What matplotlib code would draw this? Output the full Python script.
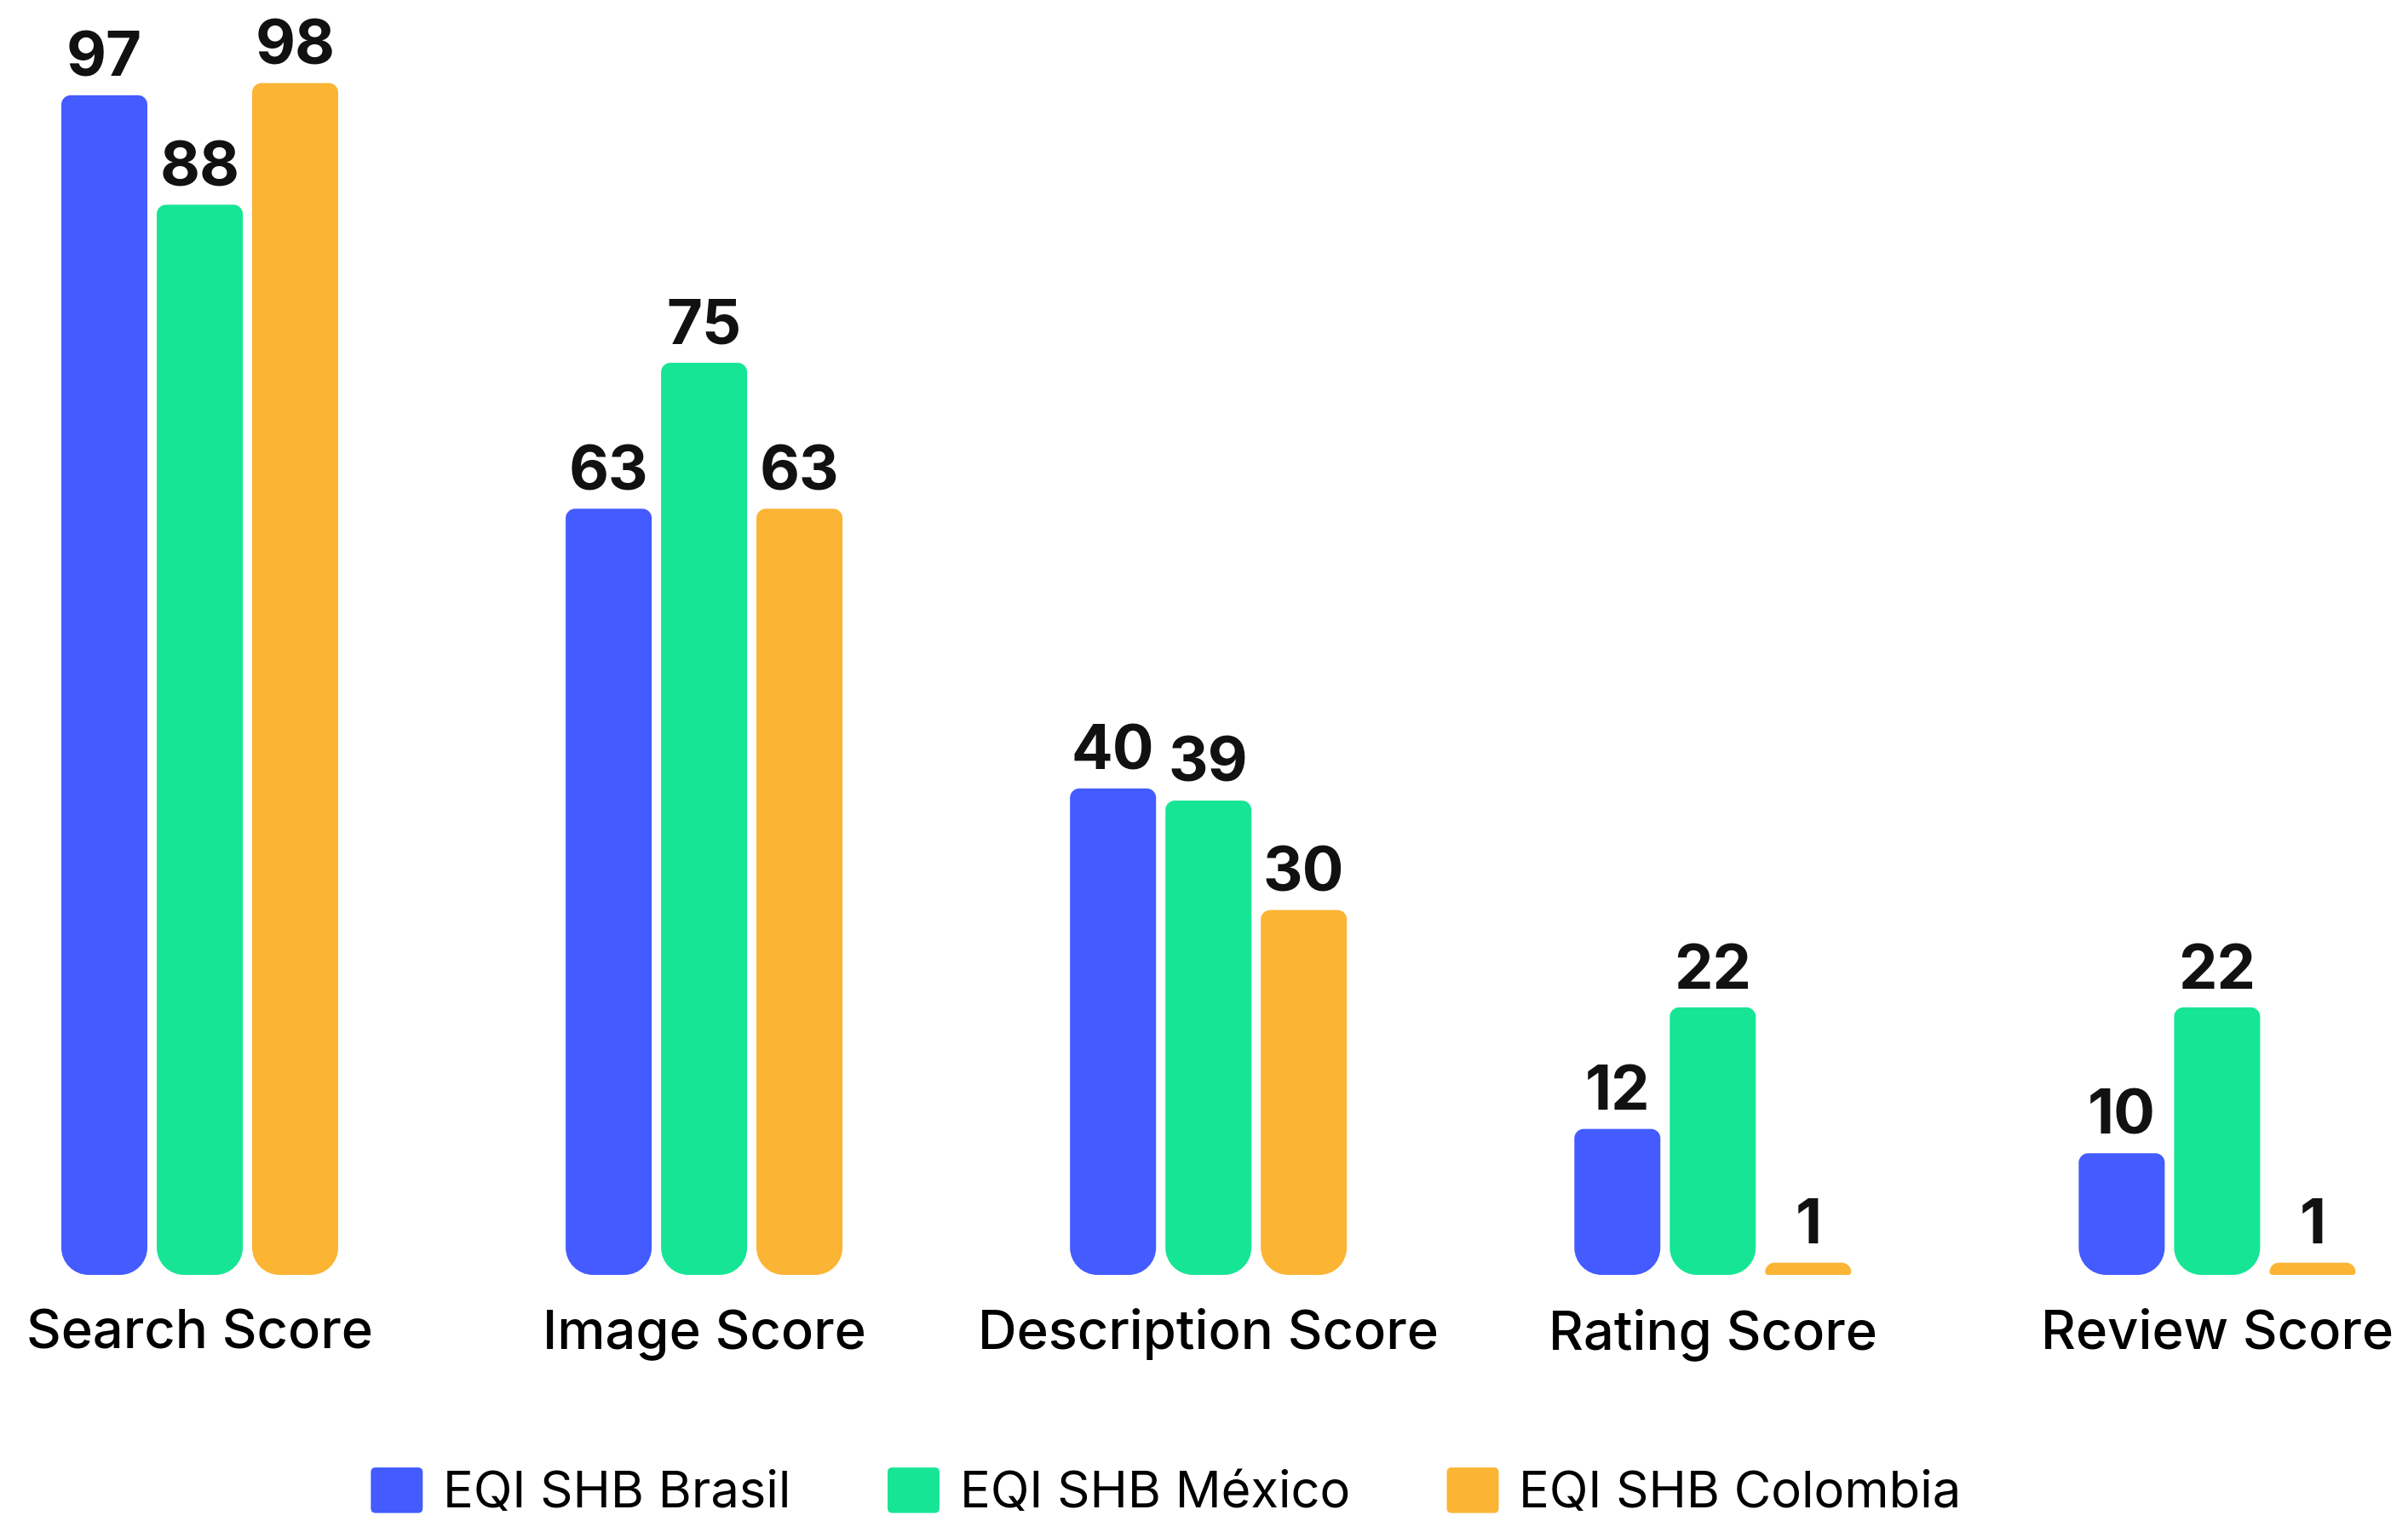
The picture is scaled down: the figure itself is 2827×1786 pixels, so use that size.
import matplotlib

matplotlib.use("Agg")
import matplotlib.pyplot as plt
import numpy as np
from matplotlib.legend_handler import HandlerPatch
from matplotlib.patches import FancyBboxPatch, Patch, PathPatch
from matplotlib.path import Path

CATEGORIES = ["Search Score", "Image Score", "Description Score", "Rating Score", "Review Score"]
SERIES = ["EQI SHB Brasil", "EQI SHB México", "EQI SHB Colombia"]
BRASIL = [97, 63, 40, 12, 10]
MEXICO = [88, 75, 39, 22, 22]
COLOMBIA = [98, 63, 30, 1, 1]
COLORS = ["#435BFF", "#17E596", "#FBB434"]

FONT = "Inter"
WIDTH_PX, HEIGHT_PX, DPI = 2827, 1786, 100
BASELINE_PX = 289          # distance of the zero line from the bottom edge
GROUP_STEP_PX = 592.1
FIRST_GROUP_PX = 234.5
BAR_PX, BAR_PITCH_PX = 101, 112
UNIT_PX = 14.28            # pixels per score point


def px_scale(ax):
    origin = ax.transData.transform((0, 0))
    sx = ax.transData.transform((1, 0))[0] - origin[0]
    sy = ax.transData.transform((0, 1))[1] - origin[1]
    return sx, sy


def round_bar(ax, rect, top_r, bottom_r):
    """Swap a bar rectangle for a path with circular corners in screen space."""
    sx, sy = px_scale(ax)
    x0, y0 = rect.get_x(), rect.get_y()
    w, h = rect.get_width(), rect.get_height()
    x1, y1 = x0 + w, y0 + h
    rt = min(top_r, w * sx / 2, h * sy)
    rb = max(min(bottom_r, w * sx / 2, h * sy - rt), 0)
    tx, ty = rt / sx, rt / sy
    bx, by = rb / sx, rb / sy
    k = 0.5523
    verts = [
        (x0 + bx, y0),
        (x1 - bx, y0),
        (x1 - bx + k * bx, y0), (x1, y0 + by - k * by), (x1, y0 + by),
        (x1, y1 - ty),
        (x1, y1 - ty + k * ty), (x1 - tx + k * tx, y1), (x1 - tx, y1),
        (x0 + tx, y1),
        (x0 + tx - k * tx, y1), (x0, y1 - ty + k * ty), (x0, y1 - ty),
        (x0, y0 + by),
        (x0, y0 + by - k * by), (x0 + bx - k * bx, y0), (x0 + bx, y0),
        (x0 + bx, y0),
    ]
    codes = (
        [Path.MOVETO, Path.LINETO]
        + [Path.CURVE4] * 3 + [Path.LINETO]
        + [Path.CURVE4] * 3 + [Path.LINETO]
        + [Path.CURVE4] * 3 + [Path.LINETO]
        + [Path.CURVE4] * 3 + [Path.CLOSEPOLY]
    )
    ax.add_patch(PathPatch(Path(verts, codes), facecolor=rect.get_facecolor(),
                           edgecolor="none", zorder=2))
    rect.remove()


def rounded_handle(legend, orig_handle, xdescent, ydescent, width, height, fontsize):
    return FancyBboxPatch((-xdescent, -ydescent), width, height,
                          boxstyle="round,pad=0,rounding_size=4")


fig = plt.figure(figsize=(WIDTH_PX / DPI, HEIGHT_PX / DPI), dpi=DPI)
ax = fig.add_axes([0, BASELINE_PX / HEIGHT_PX, 1, 1 - BASELINE_PX / HEIGHT_PX])
x_left = -FIRST_GROUP_PX / GROUP_STEP_PX
ax.set_xlim(x_left, x_left + WIDTH_PX / GROUP_STEP_PX)
ax.set_ylim(0, (HEIGHT_PX - BASELINE_PX) / UNIT_PX)
ax.axis("off")

x = np.arange(len(CATEGORIES))
width = BAR_PX / GROUP_STEP_PX
pitch = BAR_PITCH_PX / GROUP_STEP_PX
for i, (values, color) in enumerate(zip([BRASIL, MEXICO, COLOMBIA], COLORS)):
    bars = ax.bar(x + (i - 1) * pitch, values, width, color=color)
    for rect, value in zip(bars, values):
        ax.annotate(
            f"{value}",
            (rect.get_x() + rect.get_width() / 2, value),
            xytext=(0, 16),
            textcoords="offset points",
            ha="center",
            va="baseline",
            fontsize=52,
            fontweight="bold",
            family=FONT,
            color="#111111",
        )
        round_bar(ax, rect, top_r=11, bottom_r=32)

for xi, label in zip(x, CATEGORIES):
    ax.annotate(
        label,
        (xi, 0),
        xytext=(0, -62.5),
        textcoords="offset points",
        ha="center",
        va="baseline",
        fontsize=45.5,
        fontweight="medium",
        family=FONT,
        color="black",
        annotation_clip=False,
    )

handles = [Patch(facecolor=c, label=s) for c, s in zip(COLORS, SERIES)]
fig.legend(
    handles=handles,
    loc="lower center",
    bbox_to_anchor=(1369 / WIDTH_PX, -0.018),
    ncol=3,
    frameon=False,
    prop={"family": FONT, "size": 43},
    handlelength=1.02,
    handleheight=1.0,
    handletextpad=0.4,
    columnspacing=1.9,
    borderpad=0.1,
    handler_map={Patch: HandlerPatch(patch_func=rounded_handle)},
)

fig.savefig("out.png", dpi=DPI, facecolor="white")
